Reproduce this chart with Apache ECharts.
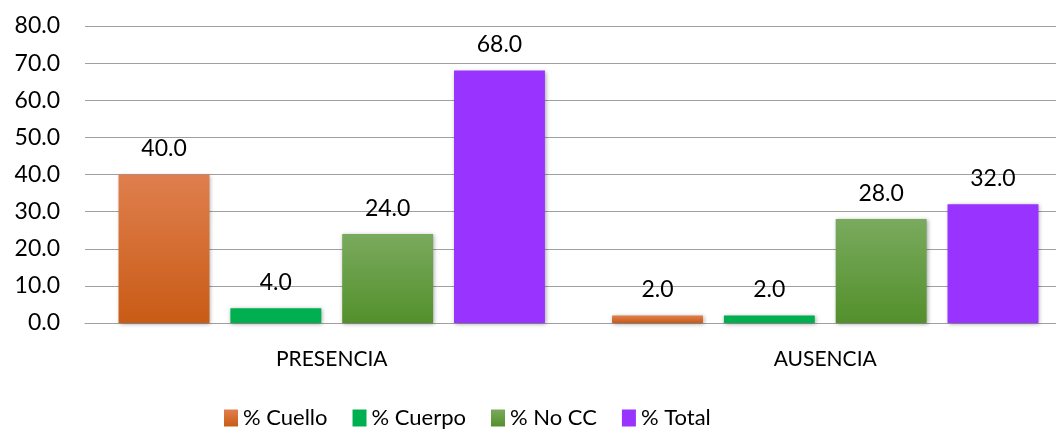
<!DOCTYPE html>
<html>
<head>
<meta charset="utf-8">
<script src="https://cdn.jsdelivr.net/npm/echarts@6/dist/echarts.min.js"></script>
<style>
  html, body { margin: 0; padding: 0; background: #ffffff; }
  #chart { width: 1056px; height: 432px; }
</style>
</head>
<body>
<div id="chart"></div>
<script>
// Categories and series values (percent)
var categories = ['PRESENCIA', 'AUSENCIA'];
var seriesNames = ['% Cuello', '% Cuerpo', '% No CC', '% Total'];
var cuello = [40.0, 2.0];
var cuerpo = [4.0, 2.0];
var noCC = [24.0, 28.0];
var total = [68.0, 32.0];

var FONT = 'Lato, "Noto Sans", sans-serif';

function vgrad(top, bottom) {
  return new echarts.graphic.LinearGradient(0, 0, 0, 1, [
    { offset: 0, color: top },
    { offset: 1, color: bottom }
  ]);
}

function makeFills() {
  return [
    vgrad('#DF7F4E', '#C95B15'),
    '#00B050',
    vgrad('#7AAA5E', '#53902C'),
    '#9933FF'
  ];
}
var fills = makeFills();
var legendFills = makeFills();

var values = [cuello, cuerpo, noCC, total];

var chart = echarts.init(document.getElementById('chart'), null, { renderer: 'canvas' });

var series = values.map(function (arr, i) {
  return {
    name: seriesNames[i],
    type: 'bar',
    data: arr,
    barGap: '23%',
    barCategoryGap: '13.6%',
    itemStyle: {
      color: fills[i],
      shadowBlur: 4,
      shadowColor: 'rgba(0,0,0,0.35)',
      shadowOffsetX: 1,
      shadowOffsetY: 1
    },
    label: {
      show: true,
      position: 'top',
      distance: 14,
      fontFamily: FONT,
      fontSize: 23,
      color: '#000000',
      formatter: function (p) { return p.value.toFixed(1); }
    }
  };
});

chart.setOption({
  animation: false,
  backgroundColor: '#ffffff',
  grid: {
    left: 85, width: 987, top: 26, height: 297,
    containLabel: false,
    outerBoundsMode: 'none'
  },
  legend: {
    data: seriesNames.map(function (n, i) {
      return { name: n, itemStyle: { color: legendFills[i] } };
    }),
    left: 224,
    top: 407,
    padding: 0,
    icon: 'rect',
    itemWidth: 14,
    itemHeight: 17,
    itemGap: 25,
    textStyle: { fontFamily: FONT, fontSize: 22, color: '#000000' }
  },
  xAxis: {
    type: 'category',
    data: categories,
    axisLine: { show: true, lineStyle: { color: '#A0A0A0', width: 1 } },
    axisTick: { show: false },
    axisLabel: { fontFamily: FONT, fontSize: 21, color: '#000000', margin: 26 }
  },
  yAxis: {
    type: 'value',
    min: 0,
    max: 80,
    interval: 10,
    axisLine: { show: false },
    axisTick: { show: false },
    splitLine: { show: true, lineStyle: { color: '#A0A0A0', width: 1 } },
    axisLabel: {
      fontFamily: FONT,
      fontSize: 23,
      color: '#000000',
      margin: 25,
      formatter: function (v) { return v.toFixed(1); }
    }
  },
  series: series
});
</script>
</body>
</html>
